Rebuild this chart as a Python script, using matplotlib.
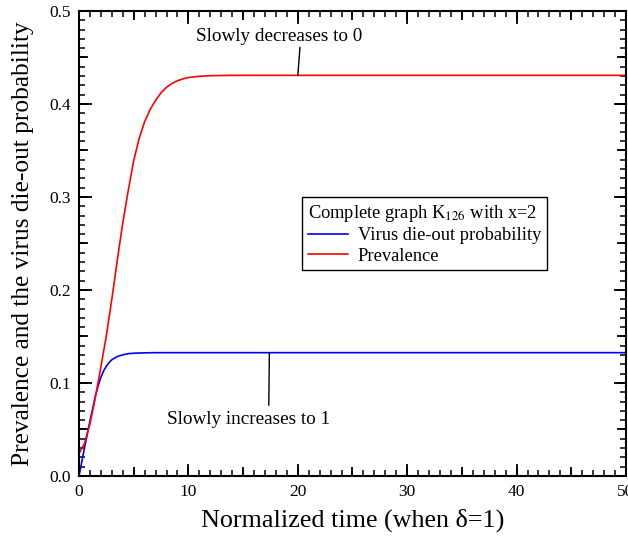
import matplotlib
matplotlib.use("Agg")
import matplotlib.pyplot as plt
from matplotlib.ticker import MultipleLocator, FormatStrFormatter

plt.rcParams['font.family'] = ['Liberation Serif', 'DejaVu Serif']
plt.rcParams['mathtext.fontset'] = 'stix'

# values
time_prev = [0, 0.5, 1, 1.5, 2, 2.5, 3, 3.5, 4, 4.5, 5, 5.5, 6, 6.5, 7, 7.5, 8, 8.5, 9, 9.5,
             10, 11, 12, 14, 50]
prevalence = [0.024, 0.035, 0.056, 0.085, 0.117, 0.151, 0.190, 0.232, 0.272, 0.307, 0.339, 0.363,
              0.381, 0.394, 0.404, 0.412, 0.418, 0.422, 0.425, 0.427, 0.4285, 0.4298, 0.4304,
              0.4308, 0.4308]
time_die = [0, 0.25, 0.5, 1, 1.5, 1.75, 2, 2.25, 2.5, 2.75, 3, 3.5, 4, 4.5, 5, 6, 7, 50]
die_out = [0.0, 0.015, 0.030, 0.059, 0.086, 0.097, 0.106, 0.113, 0.118, 0.122, 0.125, 0.1285,
           0.1303, 0.1315, 0.132, 0.1324, 0.1326, 0.1326]

legend_title = r'Complete graph K$_{126}$ with x=2'
labels = ['Virus die-out probability', 'Prevalence']


def style_ticks(axis, major, mid, minor, labels_on):
    # inward ticks on all four sides
    axis.xaxis.set_major_locator(MultipleLocator(major[0]))
    axis.yaxis.set_major_locator(MultipleLocator(major[1]))
    if minor is not None:
        axis.xaxis.set_minor_locator(MultipleLocator(minor[0]))
        axis.yaxis.set_minor_locator(MultipleLocator(minor[1]))
    axis.tick_params(which='major', direction='in', top=True, right=True,
                     length=mid, width=1.3, labelsize=12.5, pad=6,
                     labelbottom=labels_on, labelleft=labels_on)
    axis.tick_params(which='minor', direction='in', top=True, right=True,
                     length=4.3, width=1.1)


fig = plt.figure(figsize=(6.28, 5.39), dpi=100)
ax = fig.add_axes([0.1258, 0.1169, 0.871, 0.8627])

ax.plot(time_die, die_out, color='#0000ff', lw=1.2, label=labels[0])
ax.plot(time_prev, prevalence, color='#ff0000', lw=1.2, label=labels[1])

ax.set_xlim(0, 50)
ax.set_ylim(0, 0.5)
style_ticks(ax, (10, 0.1), 9, (1, 0.01), True)
ax.yaxis.set_major_formatter(FormatStrFormatter('%.1f'))
for s in ax.spines.values():
    s.set_linewidth(1.5)

# medium ticks every 5 / 0.05 on an overlay axes
mid = fig.add_axes(ax.get_position(), frameon=False)
mid.set_xlim(0, 50)
mid.set_ylim(0, 0.5)
style_ticks(mid, (5, 0.05), 6.7, None, False)
mid.tick_params(which='minor', length=0)
mid.patch.set_visible(False)

ax.set_xlabel('Normalized time (when δ=1)', fontsize=18.8, labelpad=6)
ax.set_ylabel('Prevalence and the virus die-out probability', fontsize=18.3, labelpad=11)

# annotations: text plus a thin pointer line
ax.text(18.3, 0.473, 'Slowly decreases to 0', ha='center', va='center', fontsize=13.8)
ax.annotate('', xy=(20.0, 0.4306), xytext=(20.2, 0.461),
            arrowprops=dict(arrowstyle='-', color='black', lw=1, shrinkA=0, shrinkB=0))
ax.text(15.5, 0.061, 'Slowly increases to 1', ha='center', va='center', fontsize=13.8)
ax.annotate('', xy=(17.4, 0.1326), xytext=(17.35, 0.076),
            arrowprops=dict(arrowstyle='-', color='black', lw=1, shrinkA=0, shrinkB=0))

leg = ax.legend(title=legend_title, loc='upper left', bbox_to_anchor=(0.408, 0.6),
                borderaxespad=0, fontsize=13.3, title_fontsize=13.3, fancybox=False,
                edgecolor='black', framealpha=1, handlelength=2.2, handletextpad=0.5,
                labelspacing=0.2, borderpad=0.3, alignment='left')
leg.get_frame().set_linewidth(1.0)

fig.savefig('out.png', dpi=100)
